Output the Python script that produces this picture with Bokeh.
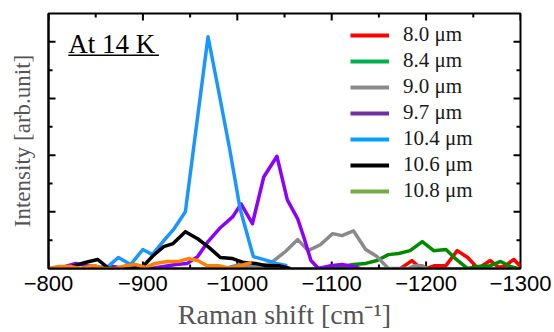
from bokeh.plotting import figure
from bokeh.models import (Range1d, LinearAxis, SingleIntervalTicker, FixedTicker, Legend, LegendItem,
                          Label, BoxAnnotation, ColumnDataSource)
from bokeh.embed import file_html
from bokeh.resources import INLINE

# ---- data (Raman shift in cm^-1, intensity in arb. units) ----
red_x = [-1173, -1185, -1193, -1201, -1209, -1221, -1233, -1244, -1255, -1268, -1277, -1284, -1293, -1300]
red_y = [0, 0.28, 0.04, 0, 0.1, 0.1, 0.63, 0.39, 0, 0.28, 0.04, 0.1, 0.32, 0.07]

green_x = [-1086, -1099, -1111, -1123, -1136, -1148, -1160, -1171, -1183, -1196, -1208, -1221, -1232,
           -1244, -1255, -1268, -1279, -1289, -1297]
green_y = [0, 0.04, 0.07, 0.14, 0.18, 0.28, 0.49, 0.53, 0.63, 0.95, 0.63, 0.67, 0.32, 0, 0.07, 0.1,
           0.25, 0.07, 0]

gray_x = [-987, -1003, -1016, -1026, -1035, -1051, -1064, -1075, -1088, -1101, -1111, -1123, -1136,
          -1148, -1160, -1171, -1181, -1188, -1196, -1201]
gray_y = [0, 0.14, 0.07, 0.1, 0.18, 0.6, 1.02, 0.63, 0.84, 1.23, 1.16, 1.33, 0.67, 0.42, 0, 0, 0,
          0.1, 0.1, 0]

purple_x = [-818, -829, -841, -855, -868, -882, -897, -908, -922, -935, -947, -958, -969, -982, -995,
            -1004, -1016, -1028, -1042, -1053, -1064, -1071, -1078, -1086, -1099, -1111, -1122, -1130]
purple_y = [0.07, 0.18, 0.1, 0.04, 0.07, 0, 0.07, 0, 0.07, 0.14, 0.18, 0.42, 0.95, 1.44, 1.82, 2.28,
            1.58, 3.23, 3.96, 2.42, 1.75, 1.05, 0.28, 0, 0.1, 0.14, 0.07, 0]

blue_x = [-850, -862, -874, -887, -900, -910, -922, -933, -945, -957, -969, -980, -992, -1003, -1017,
          -1032, -1041, -1053]
blue_y = [0.0, 0.04, 0.39, 0.14, 0.67, 0.49, 0.98, 1.4, 2.0, 5.1, 8.18, 6.3, 4.2, 2.1, 0.42, 0.28,
          0.18, 0.1]

black_x = [-813, -825, -839, -852, -864, -876, -889, -900, -911, -922, -932, -945, -958, -969, -982,
           -995, -1007, -1019, -1031, -1044, -1056]
black_y = [0, 0.07, 0.21, 0.32, 0, 0, 0, 0.07, 0.46, 0.77, 0.88, 1.3, 1.05, 0.77, 0.39, 0.35, 0.21,
           0.18, 0.1, 0.1, 0]

orange_x = [-800, -811, -823, -834, -847, -858, -871, -882, -892, -903, -913, -926, -938, -948, -958,
            -968, -980, -993, -1003, -1015]
orange_y = [0, 0.07, 0.07, 0, 0.1, 0, 0, 0.1, 0.14, 0.04, 0.18, 0.25, 0.25, 0.35, 0.28, 0.1, 0.1, 0,
            0.1, 0.21]

labels = ["8.0 \u03bcm", "8.4 \u03bcm", "9.0 \u03bcm", "9.7 \u03bcm", "10.4 \u03bcm", "10.6 \u03bcm", "10.8 \u03bcm"]
line_colors = ["#ff0000", "#008a00", "#8a8a8a", "#8c00ff", "#1a96ff", "#000000", "#ff8000"]
legend_colors = ["#ff0000", "#00b050", "#8a8a8a", "#7030a0", "#00a0ff", "#000000", "#70ad47"]
series = [(red_x, red_y), (green_x, green_y), (gray_x, gray_y), (purple_x, purple_y),
          (blue_x, blue_y), (black_x, black_y), (orange_x, orange_y)]

x_ticks = [-800, -900, -1000, -1100, -1200, -1300]
x_minor = [-850, -950, -1050, -1150, -1250]
y_major = [2, 4, 6, 8]
y_minor = [1, 3, 5, 7]

X0, X1 = -800, -1300
Y0, Y1 = 0, 9

SERIF = "Liberation Serif"
SANS = "Liberation Sans"

p = figure(width=554, height=332, output_backend="svg", toolbar_location=None,
           x_range=Range1d(X0, X1), y_range=Range1d(Y0, Y1),
           min_border_left=48, min_border_right=34, min_border_top=13, min_border_bottom=62,
           x_axis_location=None, y_axis_location=None)
p.xgrid.visible = False
p.ygrid.visible = False
p.outline_line_color = "black"
p.outline_line_width = 2
p.background_fill_color = "white"
p.border_fill_color = "white"

def style_axis(ax):
    ax.axis_line_width = 2
    ax.axis_line_color = "black"
    ax.major_tick_in = 0
    ax.major_tick_out = 0
    ax.minor_tick_in = 0
    ax.minor_tick_out = 0

# bottom x axis
xb = LinearAxis(ticker=FixedTicker(ticks=x_ticks, minor_ticks=x_minor))
style_axis(xb)
xb.major_label_overrides = {t: "\u2212" + str(abs(t)) for t in x_ticks}
xb.major_label_text_font = SANS
xb.major_label_text_font_size = "22px"
xb.major_label_text_color = "black"
xb.major_label_standoff = 7
xb.axis_label = "Raman shift [cm\u207b\u00b9]"
xb.axis_label_text_font = SERIF
xb.axis_label_text_font_style = "normal"
xb.axis_label_text_font_size = "28px"
xb.axis_label_text_color = "#555555"
xb.axis_label_standoff = 5
p.add_layout(xb, "below")

# left axis: label only, no tick labels
yl = LinearAxis(ticker=FixedTicker(ticks=[]))
style_axis(yl)
yl.major_label_standoff = 0
yl.axis_label = "Intensity [arb.unit]"
yl.axis_label_text_font = SERIF
yl.axis_label_text_font_style = "normal"
yl.axis_label_text_font_size = "23px"
yl.axis_label_text_color = "#555555"
yl.axis_label_standoff = 14
p.add_layout(yl, "left")

# inward tick marks on all four sides (drawn from the tick value lists)
px_x = (X0 - X1) / 472.0   # data units per pixel (x)
px_y = (Y1 - Y0) / 257.0   # data units per pixel (y)
maj, mnr = 7, 4
tk = dict(line_color="black", line_width=2)
p.segment(x0=x_ticks, y0=[Y0] * len(x_ticks), x1=x_ticks, y1=[Y0 + maj * px_y] * len(x_ticks), **tk)
p.segment(x0=x_ticks, y0=[Y1] * len(x_ticks), x1=x_ticks, y1=[Y1 - maj * px_y] * len(x_ticks), **tk)
p.segment(x0=x_minor, y0=[Y0] * len(x_minor), x1=x_minor, y1=[Y0 + mnr * px_y] * len(x_minor), **tk)
p.segment(x0=x_minor, y0=[Y1] * len(x_minor), x1=x_minor, y1=[Y1 - mnr * px_y] * len(x_minor), **tk)
p.segment(x0=[X0] * len(y_major), y0=y_major, x1=[X0 - maj * px_x] * len(y_major), y1=y_major, **tk)
p.segment(x0=[X1] * len(y_major), y0=y_major, x1=[X1 + maj * px_x] * len(y_major), y1=y_major, **tk)
p.segment(x0=[X0] * len(y_minor), y0=y_minor, x1=[X0 - mnr * px_x] * len(y_minor), y1=y_minor, **tk)
p.segment(x0=[X1] * len(y_minor), y0=y_minor, x1=[X1 + mnr * px_x] * len(y_minor), y1=y_minor, **tk)

# data lines
for (xs, ys), c in zip(series, line_colors):
    p.line(xs, ys, line_color=c, line_width=3.5, line_join="round")

# legend (legend swatch colours differ from plotted colours in the original)
items = []
for lab, c in zip(labels, legend_colors):
    r = p.line(x="x", y="y", source=ColumnDataSource(data=dict(x=[X0], y=[float("nan")])),
               line_color=c, line_width=4)
    items.append(LegendItem(label=lab, renderers=[r]))

legend = Legend(items=items, location=(302, 65), padding=0, margin=0,
                border_line_color=None, background_fill_alpha=0,
                glyph_width=39, glyph_height=20, label_height=20, spacing=1,
                label_standoff=14, label_text_font=SERIF, label_text_font_size="21px",
                label_text_color="#1a1a1a")
p.add_layout(legend)

# "At 14 K" annotation with underline
p.add_layout(Label(x=-821, y=7.93, text="At 14 K", text_font=SERIF, text_font_size="27px",
                   text_color="black", text_baseline="alphabetic", text_align="left"))
p.add_layout(BoxAnnotation(left=-821, right=-917, bottom=7.50, top=7.555,
                           fill_color="black", fill_alpha=1, line_alpha=0))

open("out.html", "w").write(file_html(p, INLINE))
